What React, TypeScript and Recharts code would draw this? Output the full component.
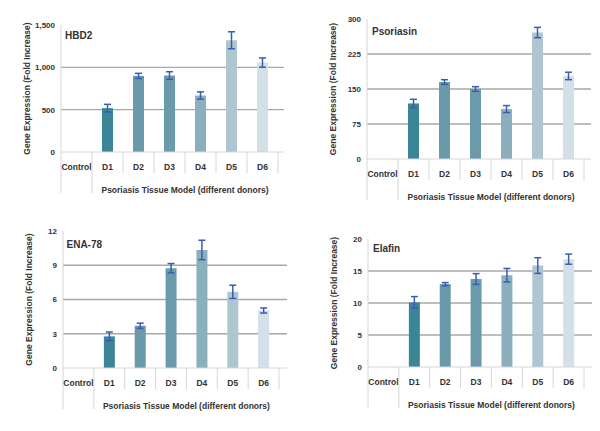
import React from 'react';
import { BarChart, Bar, XAxis, YAxis, CartesianGrid, ErrorBar, Cell, Label } from 'recharts';

const categories = ['Control', 'D1', 'D2', 'D3', 'D4', 'D5', 'D6'];
const groupLabel = 'Psoriasis Tissue Model (different donors)';
const yTitle = 'Gene Expression (Fold Increase)';

const hbd2Values = [null, 518, 899, 903, 667, 1320, 1056];
const hbd2Errors = [null, 45, 30, 45, 43, 100, 55];
const hbd2Ticks = [0, 500, 1000, 1500];

const psoriasinValues = [null, 119, 165, 150, 107, 271, 178];
const psoriasinErrors = [null, 9, 5, 5, 7.5, 11, 8];
const psoriasinTicks = [0, 75, 150, 225, 300];

const ena78Values = [null, 2.77, 3.7, 8.74, 10.34, 6.67, 5.04];
const ena78Errors = [null, 0.38, 0.23, 0.41, 0.85, 0.58, 0.22];
const ena78Ticks = [0, 3, 6, 9, 12];

const elafinValues = [null, 10.1, 12.95, 13.75, 14.35, 15.85, 16.85];
const elafinErrors = [null, 0.9, 0.24, 0.84, 1.05, 1.23, 0.79];
const elafinTicks = [0, 5, 10, 15, 20];

const barColors = ['#3b8696', '#3b8696', '#6a9aaa', '#6b9bab', '#8cafbe', '#afc6d1', '#d4e0e8'];

const TEXT = '#333333';
const FONT = 'Arial, "Liberation Sans", sans-serif';
const BORDER = '#d6d6d6';
const GRID = '#a8a8a8';

type Layout = { ox: number; oy: number; left: number; top: number; right: number; bottom: number; pad: number; tx: number; ty: number };

const panels = [
  { title: 'HBD2', values: hbd2Values, errors: hbd2Errors, ticks: hbd2Ticks, layout: { ox: 0, oy: 0, left: 61, top: 25, right: 284, bottom: 152, pad: 6, tx: 4, ty: 11 } },
  { title: 'Psoriasin', values: psoriasinValues, errors: psoriasinErrors, ticks: psoriasinTicks, layout: { ox: 300, oy: 0, left: 67, top: 19, right: 291, bottom: 159, pad: 7, tx: 5, ty: 12.5 } },
  { title: 'ENA-78', values: ena78Values, errors: ena78Errors, ticks: ena78Ticks, layout: { ox: 0, oy: 215, left: 63, top: 16, right: 287, bottom: 153, pad: 8, tx: 3.5, ty: 14 } },
  { title: 'Elafin', values: elafinValues, errors: elafinErrors, ticks: elafinTicks, layout: { ox: 300, oy: 215, left: 68, top: 24, right: 292, bottom: 152, pad: 8, tx: 5, ty: 10 } },
];

const W = 300;
const H = 215;
const XH = 46;

function makeTick(n: number, pad: number) {
  return (props: any) => {
    const { x, y, payload, index, width } = props;
    const half = payload && payload.offset != null && payload.offset > 0 ? payload.offset : (width - pad) / n / 2;
    const left = x - half;
    const right = x + half;
    return (
      <g>
        <line x1={left} x2={left} y1={y} y2={y + (index <= 1 ? 41 : 21)} stroke={BORDER} strokeWidth={1} />
        {index === n - 1 && <line x1={right} x2={right} y1={y} y2={y + 21} stroke={BORDER} strokeWidth={1} />}
        <text x={x} y={y + 15} textAnchor="middle" dominantBaseline="central" fontSize={8.5} fontWeight="bold" fill={TEXT} fontFamily={FONT}>
          {payload.value}
        </text>
        {index === 3 && (
          <text x={right} y={y + 38} textAnchor="middle" dominantBaseline="central" fontSize={8.5} fontWeight="bold" fill={TEXT} fontFamily={FONT}>
            {groupLabel}
          </text>
        )}
      </g>
    );
  };
}

function Panel({ title, values, errors, ticks, layout }: { title: string; values: (number | null)[]; errors: (number | null)[]; ticks: number[]; layout: Layout }) {
  const data = categories.map((c, i) => ({ cat: c, value: values[i], err: errors[i] }));
  const L = layout;
  const fmt = (v: number) => v.toLocaleString('en-US');
  return (
    <div style={{ position: 'absolute', left: L.ox, top: L.oy, width: W, height: H }}>
      <BarChart
        width={W}
        height={H}
        data={data}
        margin={{ top: L.top, right: W - L.right, left: 0, bottom: H - L.bottom - XH }}
        barCategoryGap={0}
      >
        <CartesianGrid vertical={false} horizontalValues={ticks.slice(1, -1)} stroke={GRID} strokeWidth={1.3} />
        <XAxis
          dataKey="cat"
          height={XH}
          interval={0}
          tickLine={false}
          tickSize={0}
          tickMargin={0}
          axisLine={{ stroke: BORDER }}
          padding={{ left: 0, right: L.pad }}
          tick={makeTick(categories.length, L.pad)}
        />
        <XAxis xAxisId="top" dataKey="cat" orientation="top" height={0} tick={false} tickLine={false} axisLine={{ stroke: BORDER }} />
        <YAxis
          width={L.left}
          domain={[0, ticks[ticks.length - 1]]}
          ticks={ticks}
          interval={0}
          tickLine={false}
          tickSize={0}
          tickMargin={6}
          tickFormatter={fmt}
          axisLine={{ stroke: BORDER }}
          tick={{ fontSize: 8, fontWeight: 'bold', fill: TEXT, fontFamily: FONT }}
          label={
            <Label
              content={(p: any) => {
                const vb = p.viewBox || {};
                const cx = vb.x + vb.width - 34;
                const cy = vb.y + vb.height / 2;
                return (
                  <text x={cx} y={cy} transform={`rotate(-90 ${cx} ${cy})`} textAnchor="middle" dominantBaseline="central" fontSize={8.5} fontWeight="bold" fill={TEXT} fontFamily={FONT}>
                    {yTitle}
                  </text>
                );
              }}
            />
          }
        />
        <YAxis yAxisId="r" orientation="right" width={0} tick={false} tickLine={false} axisLine={{ stroke: BORDER }} />
        <Bar dataKey="value" barSize={11} isAnimationActive={false}>
          {data.map((_, i) => (
            <Cell key={i} fill={barColors[i]} />
          ))}
          <ErrorBar dataKey="err" width={3.5} stroke="#3a5db2" strokeWidth={1.5} />
        </Bar>
      </BarChart>
      <div
        style={{
          position: 'absolute',
          left: L.left + L.tx,
          top: L.top + L.ty - 6,
          height: 12,
          lineHeight: '12px',
          fontSize: 10,
          fontWeight: 'bold',
          fontFamily: FONT,
          color: TEXT,
          whiteSpace: 'nowrap',
        }}
      >
        {title}
      </div>
    </div>
  );
}

export default function App() {
  return (
    <div style={{ position: 'absolute', left: 0, top: 0, width: 600, height: 431, background: '#ffffff' }}>
      {panels.map((p) => (
        <Panel key={p.title} title={p.title} values={p.values} errors={p.errors} ticks={p.ticks} layout={p.layout} />
      ))}
    </div>
  );
}
